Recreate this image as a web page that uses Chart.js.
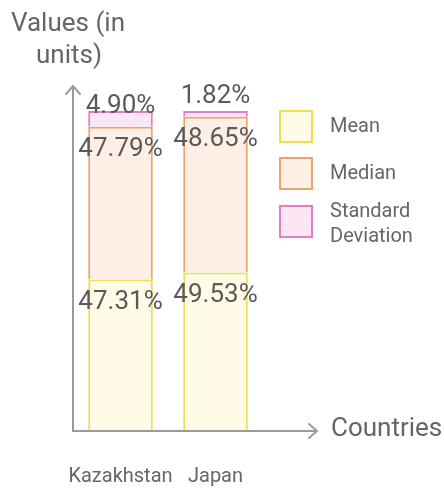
<!DOCTYPE html>
<html>
<head>
<meta charset="utf-8">
<script src="https://cdn.jsdelivr.net/npm/chart.js@4"></script>
<style>
  html, body { margin: 0; padding: 0; background: #fff; }
  #wrap { width: 444px; height: 490px; }
</style>
</head>
<body>
<div id="wrap"><canvas id="myChart" width="444" height="490"></canvas></div>
<script>
const countries = ['Kazakhstan', 'Japan'];
const meanVals = [47.31, 49.53];
const medianVals = [47.79, 48.65];
const stdVals = [4.90, 1.82];
const seriesNames = ['Mean', 'Median', ['Standard', 'Deviation']];

const FONT = 'Roboto, "Noto Sans", sans-serif';
const TXT = '#666';

// axes, labels and legend drawn on top of the bars
const decorPlugin = {
    id: 'decor',
    afterDatasetsDraw(chart) {
        const ctx = chart.ctx;
        const ax = 73, ay = 431;
        ctx.save();

        // value labels
        ctx.font = '26px ' + FONT;
        ctx.fillStyle = '#5a5a5a';
        ctx.textAlign = 'center';
        ctx.textBaseline = 'middle';
        chart.data.datasets.forEach(function (ds, di) {
            chart.getDatasetMeta(di).data.forEach(function (bar, i) {
                const top = Math.min(bar.y, bar.base);
                const bottom = Math.max(bar.y, bar.base);
                const y = (bottom - top) >= 30 ? top + 23 : bottom - 20;
                ctx.fillText(ds.data[i].toFixed(2) + '%', bar.x, y);
            });
        });

        // axis lines with arrows
        ctx.strokeStyle = '#9a9a9a';
        ctx.lineWidth = 2;
        ctx.lineCap = 'round';
        ctx.beginPath();
        ctx.moveTo(ax, 86); ctx.lineTo(ax, ay); ctx.lineTo(317, ay);
        ctx.moveTo(ax - 7, 94); ctx.lineTo(ax, 86); ctx.lineTo(ax + 7, 94);
        ctx.moveTo(309, ay - 7); ctx.lineTo(317, ay); ctx.lineTo(309, ay + 7);
        ctx.stroke();

        // axis titles
        ctx.fillStyle = TXT;
        ctx.font = '26px ' + FONT;
        ctx.textAlign = 'left';
        ctx.fillText('Values (in', 11, 24);
        ctx.fillText('units)', 36, 56);
        ctx.fillText('Countries', 331, 429);

        // category labels
        ctx.font = '20px ' + FONT;
        ctx.textAlign = 'center';
        const xs = chart.scales.x;
        countries.forEach(function (c, i) {
            ctx.fillText(c, xs.getPixelForValue(i), 477);
        });

        // legend
        const boxY = [111, 158, 206];
        chart.data.datasets.forEach(function (ds, di) {
            ctx.fillStyle = ds.backgroundColor;
            ctx.strokeStyle = ds.borderColor;
            ctx.lineWidth = 2;
            ctx.fillRect(280, boxY[di], 32, 31);
            ctx.strokeRect(280, boxY[di], 32, 31);
            ctx.fillStyle = TXT;
            ctx.font = '20px ' + FONT;
            ctx.textAlign = 'left';
            const name = seriesNames[di];
            if (Array.isArray(name)) {
                ctx.fillText(name[0], 330, boxY[di] + 6);
                ctx.fillText(name[1], 330, boxY[di] + 31);
            } else {
                ctx.fillText(name, 330, boxY[di] + 16);
            }
        });
        ctx.restore();
    }
};

const data = {
    labels: countries,
    datasets: [{
        label: 'Mean',
        data: meanVals,
        backgroundColor: '#fffbe6',
        borderColor: '#ebe04c'
    }, {
        label: 'Median',
        data: medianVals,
        backgroundColor: '#fdeee6',
        borderColor: '#eca46c'
    }, {
        label: 'Standard Deviation',
        data: stdVals,
        backgroundColor: '#fce6f4',
        borderColor: '#e47cc6'
    }]
};

data.datasets.forEach(function (ds) {
    ds.borderWidth = 2;
    ds.barPercentage = 0.68;
    ds.categoryPercentage = 1;
});

var myChart = new Chart('myChart', {
    type: 'bar',
    data: data,
    plugins: [decorPlugin],
    options: {
        responsive: false,
        animation: false,
        layout: { padding: { left: 73, right: 181, top: 111, bottom: 59 } },
        plugins: { legend: { display: false }, tooltip: { enabled: false } },
        scales: {
            x: { stacked: true, display: false },
            y: { stacked: true, display: false, min: 0, max: 100 }
        }
    }
});
</script>
</body>
</html>
